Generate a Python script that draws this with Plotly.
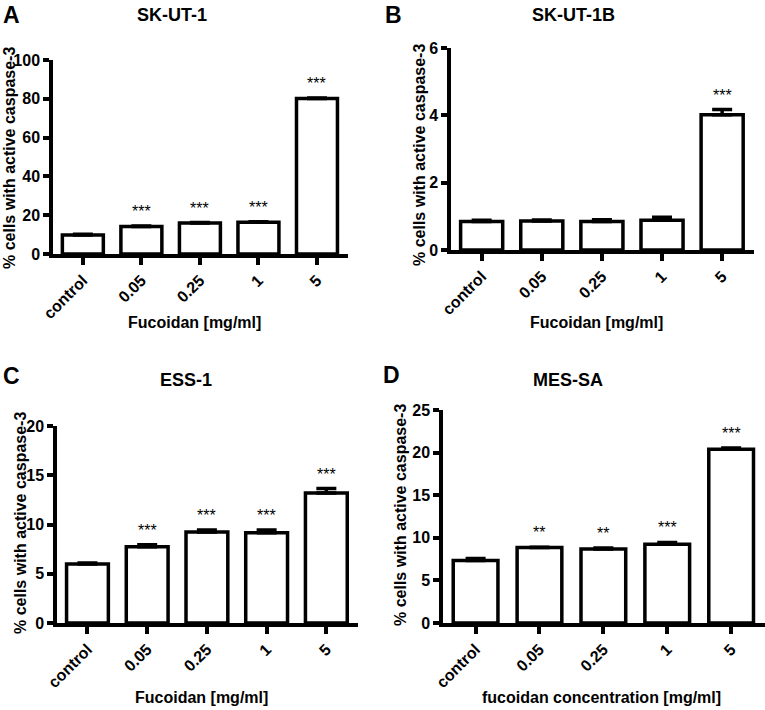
import plotly.graph_objects as go

# Fucoidan concentrations (x categories)
categories = ["control", "0.05", "0.25", "1", "5"]

# % cells with active caspase-3, mean and SEM
skut1_mean = [9.8, 14.2, 16.0, 16.4, 80.2]
skut1_err = [0.4, 0.2, 0.2, 0.2, 0.2]
skut1_sig = ["", "***", "***", "***", "***"]

skut1b_mean = [0.85, 0.86, 0.85, 0.88, 4.02]
skut1b_err = [0.03, 0.03, 0.05, 0.09, 0.15]
skut1b_sig = ["", "", "", "", "***"]

ess1_mean = [6.0, 7.75, 9.25, 9.15, 13.2]
ess1_err = [0.1, 0.2, 0.2, 0.3, 0.45]
ess1_sig = ["", "***", "***", "***", "***"]

messa_mean = [7.35, 8.85, 8.7, 9.25, 20.4]
messa_err = [0.22, 0.05, 0.1, 0.2, 0.15]
messa_sig = ["", "**", "**", "***", "***"]

W, H = 765, 710
FONT = "Liberation Sans"

panels = [
    dict(letter="A", title="SK-UT-1", mean=skut1_mean, err=skut1_err, sig=skut1_sig,
         ymax=100, dtick=20, xt="Fucoidan [mg/ml]",
         xdom=(53, 348), ydom=(254, 60),
         let_xy=(11, 15), tit_xy=(172, 15), yt_xy=(9, 158), xt_xy=(194, 322)),
    dict(letter="B", title="SK-UT-1B", mean=skut1b_mean, err=skut1b_err, sig=skut1b_sig,
         ymax=6, dtick=2, xt="Fucoidan [mg/ml]",
         xdom=(451, 754), ydom=(250, 48),
         let_xy=(394, 15), tit_xy=(573, 15), yt_xy=(420, 155), xt_xy=(596, 322)),
    dict(letter="C", title="ESS-1", mean=ess1_mean, err=ess1_err, sig=ess1_sig,
         ymax=20, dtick=5, xt="Fucoidan [mg/ml]",
         xdom=(57, 358), ydom=(623, 426),
         let_xy=(11, 376), tit_xy=(186, 380), yt_xy=(20, 523), xt_xy=(201, 697)),
    dict(letter="D", title="MES-SA", mean=messa_mean, err=messa_err, sig=messa_sig,
         ymax=25, dtick=5, xt="fucoidan concentration [mg/ml]",
         xdom=(443, 765), ydom=(623, 410),
         let_xy=(392, 375), tit_xy=(568, 380), yt_xy=(400, 515), xt_xy=(601, 697)),
]

fig = go.Figure()
annotations = []


def paper(xy):
    return xy[0] / W, 1 - xy[1] / H


for i, p in enumerate(panels):
    n = "" if i == 0 else str(i + 1)
    xa, ya = "x" + n, "y" + n

    fig.add_trace(go.Bar(
        x=categories, y=p["mean"], xaxis=xa, yaxis=ya,
        marker=dict(color="white", line=dict(color="black", width=3.5)),
        error_y=dict(type="data", symmetric=False, array=p["err"],
                     arrayminus=[0] * len(p["err"]),
                     color="black", thickness=3.5, width=10),
        showlegend=False))

    yticks = list(range(0, p["ymax"] + 1, p["dtick"]))
    axis_x = dict(domain=[p["xdom"][0] / W, p["xdom"][1] / W],
                  anchor=ya, range=[-0.51, 4.53], automargin=False,
                  type="category",
                  tickvals=categories, ticktext=["<b>%s</b>" % c for c in categories],
                  showline=True, linecolor="black", linewidth=3.5,
                  ticks="outside", ticklen=7, tickwidth=3.5, tickcolor="black",
                  tickangle=-45, showgrid=False, zeroline=False,
                  tickfont=dict(family=FONT, size=16, color="black"))
    axis_y = dict(domain=[1 - p["ydom"][0] / H, 1 - p["ydom"][1] / H],
                  anchor=xa, range=[0, p["ymax"]], automargin=False,
                  tickvals=yticks, ticktext=["<b>%d</b>" % v for v in yticks],
                  showline=True, linecolor="black", linewidth=3.5,
                  ticks="outside", ticklen=6, tickwidth=3.5, tickcolor="black",
                  showgrid=False, zeroline=False,
                  tickfont=dict(family=FONT, size=16, color="black"))
    fig.update_layout({"xaxis" + n: axis_x, "yaxis" + n: axis_y})

    # significance stars
    for j, (m, e, s) in enumerate(zip(p["mean"], p["err"], p["sig"])):
        if s:
            annotations.append(dict(x=j, y=m + e, xref=xa, yref=ya, text=s,
                                    showarrow=False, yanchor="bottom", yshift=4,
                                    font=dict(family=FONT, size=16, color="black")))

    lx, ly = paper(p["let_xy"])
    annotations.append(dict(x=lx, y=ly, xref="paper", yref="paper",
                            text="<b>%s</b>" % p["letter"],
                            showarrow=False, xanchor="center", yanchor="middle",
                            font=dict(family=FONT, size=23, color="black")))
    tx, ty = paper(p["tit_xy"])
    annotations.append(dict(x=tx, y=ty, xref="paper", yref="paper",
                            text="<b>%s</b>" % p["title"],
                            showarrow=False, xanchor="center", yanchor="middle",
                            font=dict(family=FONT, size=18, color="black")))
    yx, yy = paper(p["yt_xy"])
    annotations.append(dict(x=yx, y=yy, xref="paper", yref="paper",
                            text="<b>% cells with active caspase-3</b>", textangle=-90,
                            showarrow=False, xanchor="center", yanchor="middle",
                            font=dict(family=FONT, size=16, color="black")))
    xx, xy_ = paper(p["xt_xy"])
    annotations.append(dict(x=xx, y=xy_, xref="paper", yref="paper",
                            text="<b>%s</b>" % p["xt"],
                            showarrow=False, xanchor="center", yanchor="middle",
                            font=dict(family=FONT, size=16, color="black")))

fig.update_layout(width=W, height=H, margin=dict(l=0, r=0, t=0, b=0),
                  paper_bgcolor="white", plot_bgcolor="white",
                  bargap=0.3, annotations=annotations)

# page body margin would push the figure by 8px
fig.write_html("out.html", config={"displayModeBar": False},
               post_script="document.body.style.margin='0px';")
